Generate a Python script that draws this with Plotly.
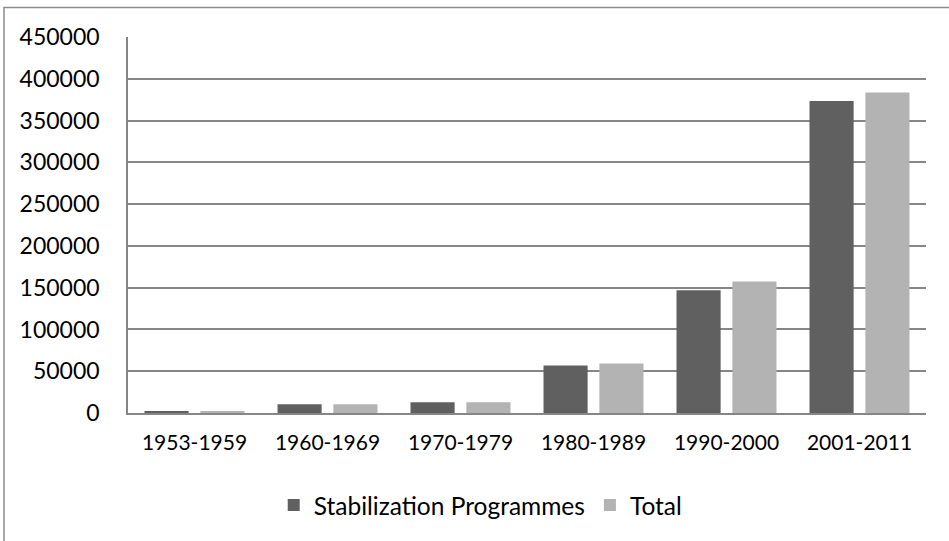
import plotly.graph_objects as go

categories = ["1953-1959", "1960-1969", "1970-1979", "1980-1989", "1990-2000", "2001-2011"]
stabilization = [2500, 10500, 12900, 56800, 146900, 373400]
total = [2400, 10600, 13000, 59200, 157300, 383700]
y_ticks = [0, 50000, 100000, 150000, 200000, 250000, 300000, 350000, 400000, 450000]

FONT = "Lato, Carlito, Calibri, sans-serif"

fig = go.Figure()
fig.add_trace(go.Bar(name="Stabilization Programmes", x=categories, y=stabilization,
                     marker=dict(color="#606060", line=dict(width=0))))
fig.add_trace(go.Bar(name="Total", x=categories, y=total,
                     marker=dict(color="#b3b3b3", line=dict(width=0))))

fig.update_layout(
    width=949, height=541,
    margin=dict(l=128, r=23, t=37, b=128),
    paper_bgcolor="white", plot_bgcolor="white",
    barmode="group", bargap=0.16, bargroupgap=0.21,
    font=dict(family=FONT, size=23, color="#000000"),
    showlegend=True,
    legend=dict(orientation="h", x=0.442, xanchor="center", y=-0.245, yanchor="middle",
                font=dict(size=24.5), itemwidth=30, traceorder="normal"),
    xaxis=dict(showgrid=False, showline=True, linecolor="#868686", linewidth=1.5,
               ticks="", ticklabelstandoff=10, tickfont=dict(size=21)),
    yaxis=dict(range=[0, 450000], tickvals=y_ticks, ticktext=[str(v) for v in y_ticks],
               showgrid=True, gridcolor="#868686", gridwidth=1.5,
               showline=True, linecolor="#868686", linewidth=1.5,
               ticks="", ticklabelstandoff=22, tickfont=dict(size=23), zeroline=False),
    shapes=[dict(type="rect", xref="paper", yref="paper",
                 x0=(4 - 128) / 798, x1=2, y0=-2, y1=1 + (37 - 7.5) / 376,
                 line=dict(color="#8c8c8c", width=1.5), fillcolor="rgba(0,0,0,0)", layer="below")],
)

fig.write_html("out.html", config={"displayModeBar": False},
               post_script="document.body.style.margin='0';")
